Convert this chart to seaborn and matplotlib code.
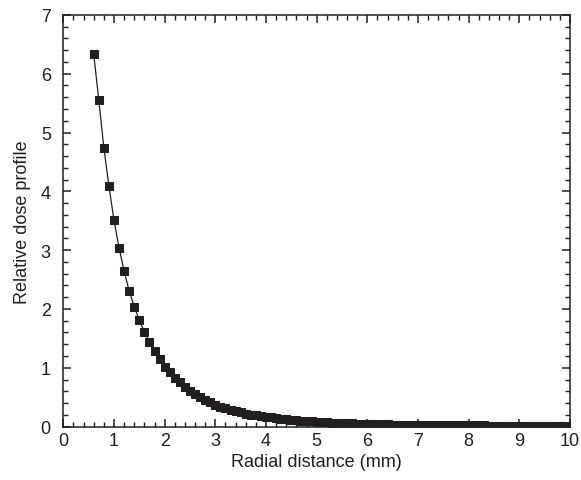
import matplotlib
matplotlib.use("Agg")
import matplotlib.pyplot as plt
import matplotlib.ticker as mticker
import seaborn as sns
import pandas as pd

# radial distance (mm) and relative dose
radial_mm = [
    0.6, 0.7, 0.8, 0.9,
    1.0, 1.1, 1.2, 1.3, 1.4, 1.5, 1.6, 1.7, 1.8, 1.9,
    2.0, 2.1, 2.2, 2.3, 2.4, 2.5, 2.6, 2.7, 2.8, 2.9,
    3.0, 3.1, 3.2, 3.3, 3.4, 3.5, 3.6, 3.7, 3.8, 3.9,
    4.0, 4.1, 4.2, 4.3, 4.4, 4.5, 4.6, 4.7, 4.8, 4.9,
    5.0, 5.1, 5.2, 5.3, 5.4, 5.5, 5.6, 5.7, 5.8, 5.9,
    6.0, 6.1, 6.2, 6.3, 6.4, 6.5, 6.6, 6.7, 6.8, 6.9,
    7.0, 7.1, 7.2, 7.3, 7.4, 7.5, 7.6, 7.7, 7.8, 7.9,
    8.0, 8.1, 8.2, 8.3, 8.4, 8.5, 8.6, 8.7, 8.8, 8.9,
    9.0, 9.1, 9.2, 9.3, 9.4, 9.5, 9.6, 9.7, 9.8, 9.9,
    10.0,
]
dose = [
    6.33, 5.55, 4.74, 4.09,
    3.51, 3.04, 2.64, 2.31, 2.04, 1.81, 1.61, 1.43, 1.28, 1.15,
    1.02, 0.92, 0.83, 0.75, 0.67, 0.61, 0.55, 0.50, 0.45, 0.41,
    0.37, 0.34, 0.31, 0.28, 0.26, 0.24, 0.22, 0.20, 0.19, 0.175,
    0.165, 0.155, 0.145, 0.135, 0.125, 0.115, 0.107, 0.100, 0.093, 0.087,
    0.081, 0.076, 0.071, 0.067, 0.063, 0.059, 0.056, 0.053, 0.050, 0.047,
    0.045, 0.043, 0.041, 0.039, 0.037, 0.035, 0.034, 0.032, 0.031, 0.030,
    0.029, 0.028, 0.027, 0.026, 0.025, 0.024, 0.023, 0.022, 0.022, 0.021,
    0.020, 0.020, 0.019, 0.019, 0.018, 0.018, 0.017, 0.017, 0.016, 0.016,
    0.015, 0.015, 0.015, 0.014, 0.014, 0.014, 0.013, 0.013, 0.013, 0.012,
    0.012,
]

df = pd.DataFrame({"r": radial_mm, "dose": dose})

sns.set_style("ticks")
plt.rcParams["font.family"] = ["Liberation Sans", "DejaVu Sans"]
plt.rcParams["axes.linewidth"] = 1.1

fig = plt.figure(figsize=(5.81, 4.81), dpi=100)
ax = fig.add_axes([0.109, 0.111, 0.872, 0.856])

ink = "#231f20"
sns.lineplot(data=df, x="r", y="dose", ax=ax, color=ink, linewidth=0.9,
             marker="s", markersize=5.5, markeredgecolor=ink,
             markerfacecolor=ink)

ax.set_xlim(0, 10)
ax.set_ylim(0, 7)
ax.xaxis.set_major_locator(mticker.MultipleLocator(1))
ax.xaxis.set_minor_locator(mticker.MultipleLocator(0.2))
ax.yaxis.set_major_locator(mticker.MultipleLocator(1))
ax.yaxis.set_minor_locator(mticker.MultipleLocator(0.2))
ax.tick_params(which="both", direction="in", top=True, right=True,
               color=ink, labelsize=13, labelcolor=ink)
ax.tick_params(which="major", length=6, width=1.1)
ax.tick_params(which="minor", length=3.5, width=1.0)
ax.tick_params(axis="x", which="major", pad=4)
ax.tick_params(axis="y", which="major", pad=9)
for s in ax.spines.values():
    s.set_color(ink)

ax.set_xlabel("Radial distance (mm)", fontsize=13, color=ink, labelpad=3)
ax.set_ylabel("Relative dose profile", fontsize=13, color=ink, labelpad=7)

fig.savefig("out.png", dpi=100)
